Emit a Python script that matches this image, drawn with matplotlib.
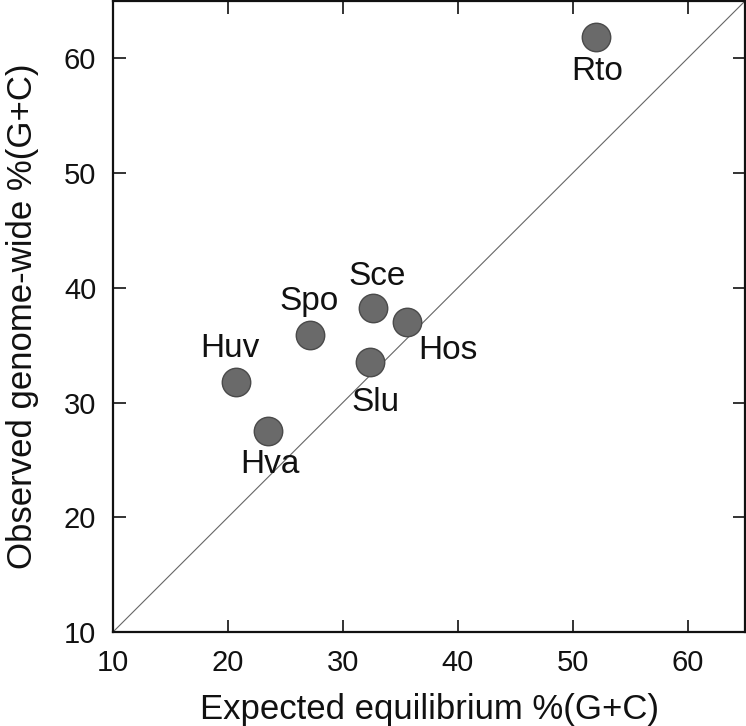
import matplotlib
matplotlib.use("Agg")
import matplotlib.pyplot as plt

# === Data ===
species = ["Rto", "Sce", "Hos", "Spo", "Slu", "Huv", "Hva"]
expected_gc = [52.0, 32.6, 35.6, 27.1, 32.4, 20.7, 23.5]
observed_gc = [61.9, 38.2, 37.0, 35.9, 33.5, 31.8, 27.5]

# label offsets in points (style only)
label_offsets = {
    "Rto": (1, -25), "Sce": (3, 23), "Hos": (29, -20), "Spo": (0, 24),
    "Slu": (4, -29), "Huv": (-4, 24), "Hva": (1, -24),
}

plt.rcParams["font.family"] = ["Liberation Sans", "DejaVu Sans"]

fig = plt.figure(figsize=(7.46, 7.26), dpi=100)
ax = fig.add_axes([0.1515, 0.1295, 0.8472, 0.8691])

# y = x reference line
ax.plot([10, 65], [10, 65], color="#666666", lw=0.8, zorder=1)

ax.scatter(expected_gc, observed_gc, s=420, color="#6a6a6a",
           edgecolors="#4a4a4a", linewidths=1.0, zorder=3)

for name, x, y in zip(species, expected_gc, observed_gc):
    dx, dy = label_offsets[name]
    ax.annotate(name, (x, y), xytext=(dx, dy), textcoords="offset points",
                ha="center", va="center", fontsize=24, color="#111111")

ax.set_xlim(10, 65)
ax.set_ylim(10, 65)
ax.set_xticks([10, 20, 30, 40, 50, 60])
ax.set_yticks([10, 20, 30, 40, 50, 60])
ax.tick_params(direction="in", length=9, width=1.2, labelsize=21,
               top=True, right=True, pad=12, colors="#111111")
for sp in ax.spines.values():
    sp.set_linewidth(1.6)
    sp.set_color("#111111")

ax.set_xlabel("Expected equilibrium %(G+C)", fontsize=25, labelpad=12,
              color="#111111")
ax.set_ylabel("Observed genome-wide %(G+C)", fontsize=25, labelpad=18,
              color="#111111")

fig.savefig("out.png", dpi=100)
